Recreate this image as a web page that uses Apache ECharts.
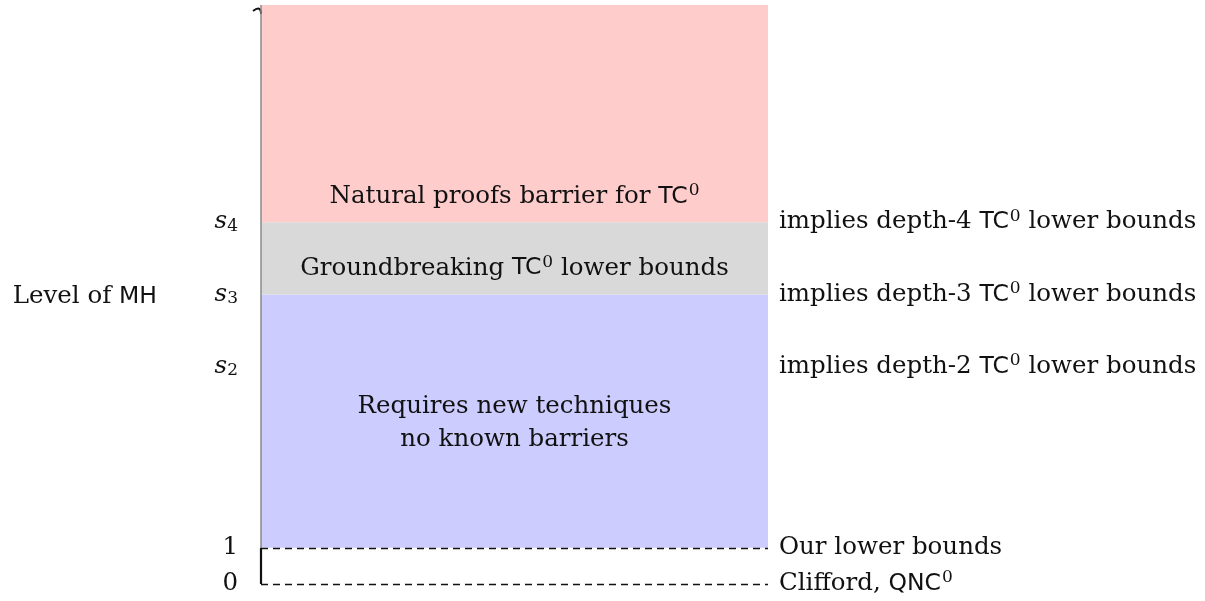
<!DOCTYPE html>
<html>
<head>
<meta charset="utf-8">
<script src="https://cdn.jsdelivr.net/npm/echarts@6/dist/echarts.min.js"></script>
<style>
  html, body { margin: 0; padding: 0; background: #fff; }
  #chart { width: 1205px; height: 601px; }
</style>
</head>
<body>
<div id="chart"></div>
<script>
// levels on the MH axis (value units)
const levels = [0, 1, 6, 8, 10]
const levelLabels = ['0', '1', '{it|s}{sub|2}', '{it|s}{sub|3}', '{it|s}{sub|4}']
const levelNotes = [
    'Clifford, {sf|QNC}{sup|0}',
    'Our lower bounds',
    'implies depth-2 {sf|TC}{sup|0} lower bounds',
    'implies depth-3 {sf|TC}{sup|0} lower bounds',
    'implies depth-4 {sf|TC}{sup|0} lower bounds'
]
const axisTop = 16

// shaded regions
const bandFrom = [1, 8, 10]
const bandTo = [8, 10, 16]
const bandText = [
    'Requires new techniques\nno known barriers',
    'Groundbreaking {sf|TC}{sup|0} lower bounds',
    'Natural proofs barrier for {sf|TC}{sup|0}'
]
// dashed reference levels
const dashedLevels = [0, 1]

const serif = '"DejaVu Serif", "Liberation Serif", serif'
const sans = '"DejaVu Sans", "Liberation Sans", sans-serif'
const fs = 24.5

const rich = {
    sf: { fontFamily: sans, fontSize: 23.5, color: '#111' },
    sup: { fontFamily: serif, fontSize: 17, verticalAlign: 'top', color: '#111', padding: [0, 0, 12, 1] },
    sub: { fontFamily: serif, fontSize: 17, verticalAlign: 'bottom', color: '#111' },
    it: { fontFamily: serif, fontStyle: 'italic', fontSize: fs, color: '#111' }
}

const bandColors = ['#ccccff', '#d9d9d9', '#ffcccc']
const bandLabelPos = [
    { position: 'inside', offset: [0, 2], lineHeight: 33 },
    { position: 'inside', offset: [0, 10] },
    { position: 'insideBottom', distance: 11 }
]

const chart = echarts.init(document.getElementById('chart'))

const option = {
    animation: false,
    backgroundColor: '#fff',
    grid: { left: 261, right: 437, top: 5, bottom: 17 },
    xAxis: {
        type: 'value', min: 0, max: 1,
        show: false
    },
    yAxis: [
        {
            type: 'value', min: 0, max: axisTop,
            position: 'left',
            name: 'Level of {sf|MH}',
            nameLocation: 'middle',
            nameRotate: 0,
            nameGap: 104,
            nameTextStyle: {
                fontFamily: serif, fontSize: fs, color: '#111', align: 'right',
                padding: [4, 0, 0, 0],
                rich: rich
            },
            axisLine: { show: false },
            axisTick: { show: false },
            splitLine: { show: false },
            axisLabel: {
                customValues: levels,
                margin: 23,
                fontFamily: serif,
                fontSize: fs,
                color: '#111',
                rich: rich,
                formatter: v => levelLabels[levels.indexOf(v)] || ''
            }
        },
        {
            type: 'value', min: 0, max: axisTop,
            position: 'right',
            axisLine: { show: false },
            axisTick: { show: false },
            splitLine: { show: false },
            axisLabel: {
                customValues: levels,
                margin: 11,
                fontFamily: serif,
                fontSize: fs,
                color: '#111',
                rich: rich,
                formatter: v => levelNotes[levels.indexOf(v)] || ''
            }
        }
    ],
    series: [
        {
            type: 'line',
            data: [],
            silent: true,
            markArea: {
                silent: true,
                data: bandFrom.map((f, i) => [
                    {
                        xAxis: 0, yAxis: f,
                        itemStyle: { color: bandColors[i], opacity: 1 },
                        label: Object.assign({
                            show: true,
                            formatter: bandText[i],
                            fontFamily: serif,
                            fontSize: fs,
                            color: '#111',
                            rich: rich
                        }, bandLabelPos[i])
                    },
                    { xAxis: 1, yAxis: bandTo[i] }
                ])
            },
            markLine: {
                silent: true,
                symbol: 'none',
                label: { show: false },
                data: dashedLevels.map(l => [
                    { coord: [0, l], lineStyle: { color: '#111', width: 1.3, type: [7, 5] } },
                    { coord: [1, l] }
                ]).concat([
                    [
                        { coord: [0, 1], lineStyle: { color: '#8a8a8a', width: 1.5, type: 'solid' } },
                        { coord: [0, axisTop] }
                    ],
                    [
                        { coord: [0, 0], lineStyle: { color: '#111', width: 2.2, type: 'solid' } },
                        { coord: [0, 1] }
                    ]
                ])
            }
        },
        {
            // brace tip at the top of the axis
            type: 'custom',
            silent: true,
            data: [[0, axisTop]],
            renderItem: (params, api) => {
                const p = api.coord([api.value(0), api.value(1)])
                return {
                    type: 'bezierCurve',
                    shape: { x1: p[0], y1: p[1] + 9, x2: p[0] - 8, y2: p[1] + 6, cpx1: p[0], cpy1: p[1] },
                    style: { stroke: '#111', lineWidth: 2, fill: null }
                }
            }
        }
    ]
}

chart.setOption(option)
</script>
</body>
</html>
